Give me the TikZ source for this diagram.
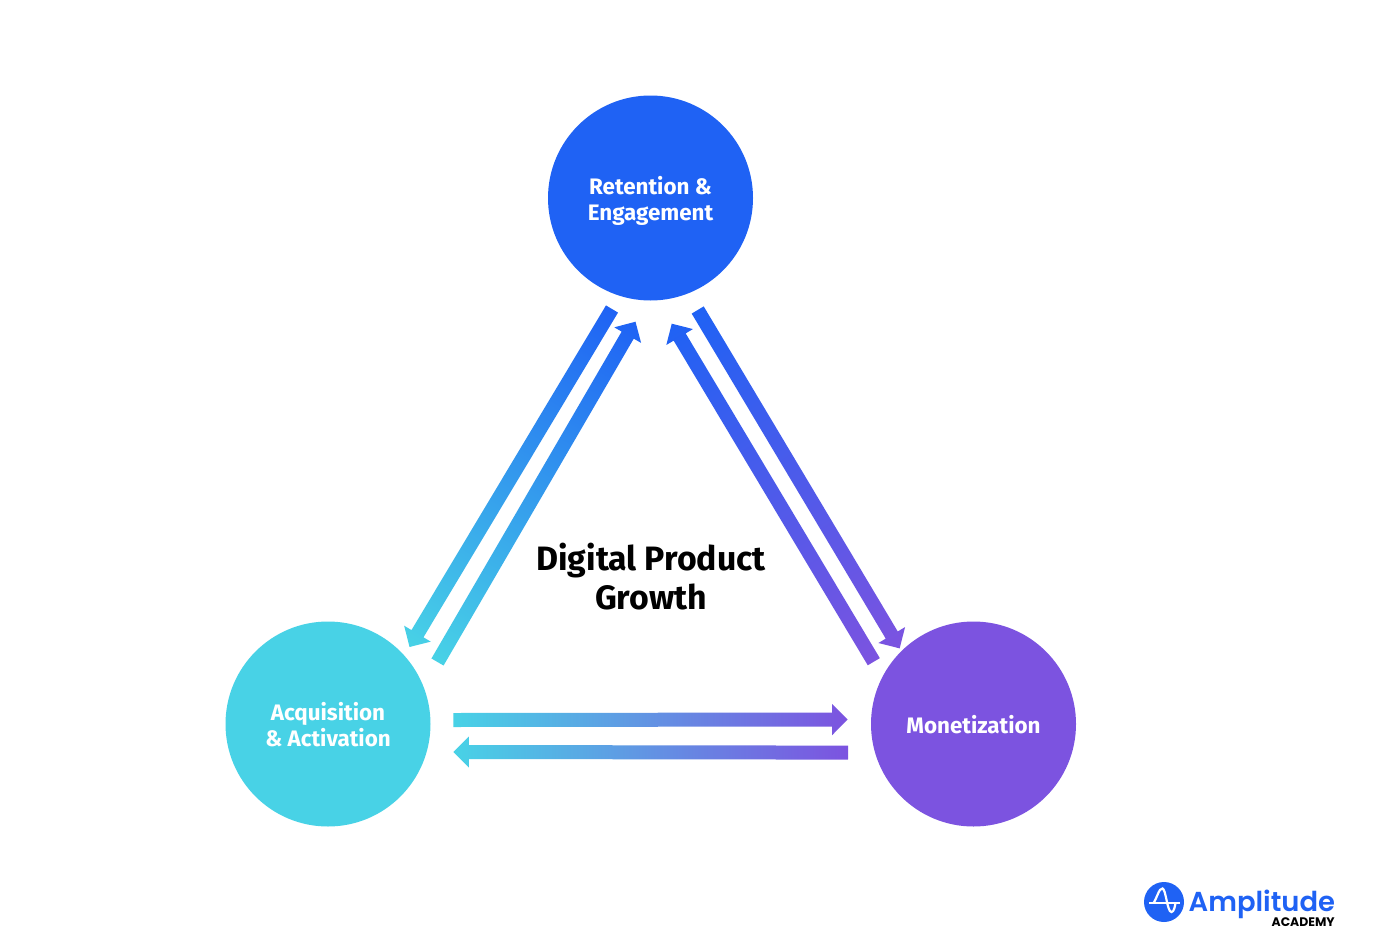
\documentclass[tikz,border=0pt]{standalone}
\usepackage{fontspec}
\setmainfont{Fira Sans}
\newfontfamily\logofont{Poppins SemiBold}
\newfontfamily\logosubfont{Poppins}
\usetikzlibrary{calc}
\definecolor{retblue}{HTML}{1F62F4}
\definecolor{acqcyan}{HTML}{48D2E6}
\definecolor{monpurple}{HTML}{7C53E0}
\tikzset{
	stage/.style={circle, fill=#1, minimum size=205pt, inner sep=0pt, text=white, align=center, text depth=0pt, font=\bfseries\fontsize{22.4}{26}\selectfont},
}
\newcommand{\flowarrow}[4]{
	\path let \p1=($(#2)-(#1)$), \n1={veclen(\x1,\y1)}, \n2={atan2(\y1,\x1)} in \pgfextra{
		\shade[transform canvas={shift={(#1)},rotate=\n2}, left color=#3, right color=#4]
			(0pt,-7pt) -- ($(\n1,-7pt)-(15.5pt,0pt)$) -- ($(\n1,-15.5pt)-(15.5pt,0pt)$) -- (\n1,0pt)
			-- ($(\n1,15.5pt)-(15.5pt,0pt)$) -- ($(\n1,7pt)-(15.5pt,0pt)$) -- (0pt,7pt) -- cycle;
	};
}

\begin{document}
\begin{tikzpicture}[x=1pt, y=-1pt]
	%%%%% START %%%%%

	\useasboundingbox[fill=white] (0, 0) rectangle (1376, 945);

	\node[stage=retblue] (retention) at (650.5, 198) {Retention \&\\Engagement};
	\node[stage=acqcyan] (acquisition) at (328, 724) {Acquisition\\\& Activation};
	\node[stage=monpurple] (monetization) at (973.5, 724) {Monetization};

	\node[align=center, font=\bfseries\fontsize{33.8}{39}\selectfont] (growth) at (651, 577) {Digital Product\\Growth};

	\coordinate (retacq) at (612, 309);
	\coordinate (retacqtip) at (409.5, 647);
	\coordinate (acqret) at (437.5, 662);
	\coordinate (acqrettip) at (635.5, 321.7);
	\coordinate (monret) at (873.8, 661.7);
	\coordinate (monrettip) at (671.7, 323.7);
	\coordinate (retmon) at (697.7, 310);
	\coordinate (retmontip) at (899.7, 648.4);
	\coordinate (acqmon) at (453.3, 720);
	\coordinate (acqmontip) at (847.7, 719.5);
	\coordinate (monacq) at (848, 752.6);
	\coordinate (monacqtip) at (453.3, 752);

	\flowarrow{retacq}{retacqtip}{retblue}{acqcyan}
	\flowarrow{acqret}{acqrettip}{acqcyan}{retblue}
	\flowarrow{monret}{monrettip}{monpurple}{retblue}
	\flowarrow{retmon}{retmontip}{retblue}{monpurple}
	\flowarrow{acqmon}{acqmontip}{acqcyan}{monpurple}
	\flowarrow{monacq}{monacqtip}{monpurple}{acqcyan}

	% logo
	\node[circle, fill=retblue, minimum size=40pt, inner sep=0pt] (logomark) at (1164, 902) {};
	\draw[white, line width=2.2pt] (1149, 903) -- (1180, 903);
	\draw[white, line width=2.2pt] (1153.5, 903) .. controls (1157, 898) and (1159, 888) .. (1162.5, 888.5)
		.. controls (1166, 889) and (1167, 912) .. (1171.5, 912) .. controls (1174, 912) and (1175, 906) .. (1175.5, 903);
	\node[anchor=base west, inner sep=0pt, text=retblue, font=\logofont\fontsize{27.4}{27.4}\selectfont] (logoname) at (1188.5, 911) {Amplitude};
	\node[anchor=base east, inner sep=0pt, font=\logosubfont\bfseries\fontsize{12.4}{12.4}\selectfont] (logosub) at (1335, 926) {ACADEMY};

	%%%%% END %%%%%
\end{tikzpicture}
\end{document}
